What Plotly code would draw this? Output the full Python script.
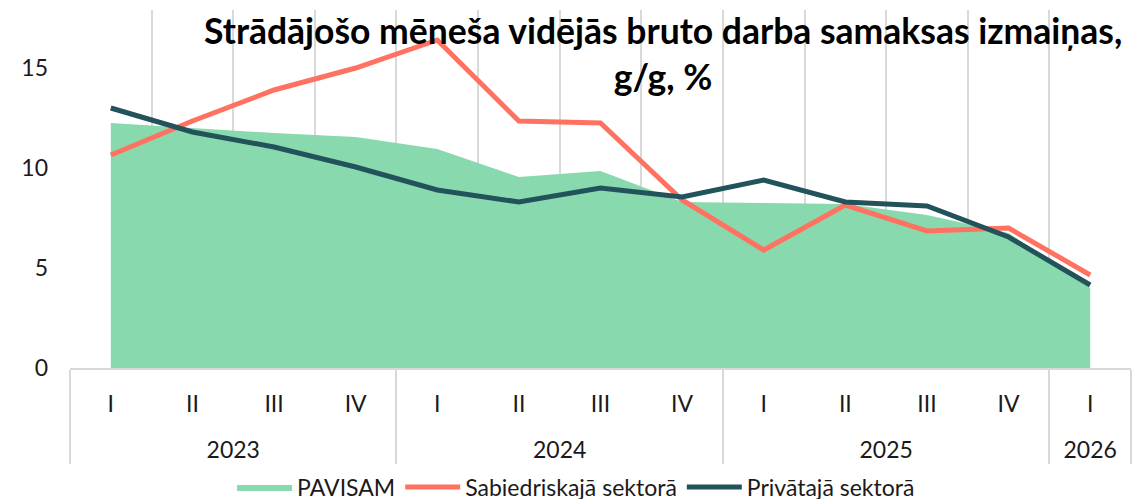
import plotly.graph_objects as go

# quarters and years (two-level category axis)
quarters = ["I", "II", "III", "IV", "I", "II", "III", "IV", "I", "II", "III", "IV", "I"]
years = ["2023"] * 4 + ["2024"] * 4 + ["2025"] * 4 + ["2026"]

# annual change of average monthly gross wage, %
pavisam = [12.25, 12.0, 11.75, 11.55, 10.95, 9.55, 9.85, 8.3, 8.25, 8.2, 7.65, 6.75, 4.0]
sabiedriskaja = [10.65, 12.35, 13.9, 15.0, 16.4, 12.35, 12.25, 8.4, 5.9, 8.15, 6.85, 7.0, 4.65]
privataja = [13.0, 11.8, 11.05, 10.05, 8.9, 8.3, 9.0, 8.55, 9.4, 8.3, 8.1, 6.55, 4.15]

# year labels sit one line lower than the quarter labels
x = [["<br>" + y for y in years], quarters]
FONT = "Lato"

fig = go.Figure()
fig.add_trace(go.Scatter(x=x, y=pavisam, name="PAVISAM", mode="lines", fill="tozeroy",
                         fillcolor="#89D9AF", line=dict(width=0, color="#89D9AF")))
fig.add_trace(go.Scatter(x=x, y=sabiedriskaja, name="Sabiedriskajā sektorā", mode="lines",
                         line=dict(color="#FF7262", width=5)))
fig.add_trace(go.Scatter(x=x, y=privataja, name="Privātajā sektorā", mode="lines",
                         line=dict(color="#23535A", width=5)))

fig.add_annotation(text="<b>Strādājošo mēneša vidējās bruto darba samaksas izmaiņas,<br>g/g, %</b>",
                   xref="paper", yref="paper", x=0.559, xanchor="center", y=1.006, yanchor="top",
                   showarrow=False, borderpad=0,
                   font=dict(family=FONT, size=35.5, color="black"))

# page body adds 8px offset, margins compensate
fig.update_layout(
    width=1143, height=499,
    margin=dict(l=62, r=20, t=2, b=139),
    plot_bgcolor="white", paper_bgcolor="white",
    font=dict(family=FONT, size=23, color="#1a1a1a"),
    showlegend=True,
    legend=dict(orientation="h", x=0.477, xanchor="center", yref="container", y=0.04,
                yanchor="middle", font=dict(size=23), itemwidth=55, tracegroupgap=0),
)
fig.update_xaxes(type="multicategory", range=[-0.5, 12.5], tickson="boundaries", automargin=False,
                 showgrid=True, gridcolor="#d9d9d9", gridwidth=2,
                 showline=True, linecolor="#d9d9d9", linewidth=2,
                 showdividers=True, dividercolor="#d9d9d9", dividerwidth=2,
                 ticks="", ticklabelstandoff=14, tickfont=dict(size=23))
fig.update_yaxes(range=[0, 17.9], tickvals=[0, 5, 10, 15], showgrid=False, zeroline=False,
                 automargin=False, showline=False, ticklabelstandoff=21, tickfont=dict(size=23))

fig.write_html("out.html")
